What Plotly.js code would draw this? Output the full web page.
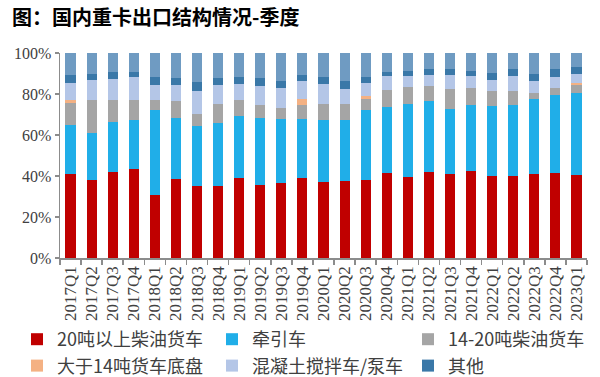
<!DOCTYPE html>
<html>
<head>
<meta charset="utf-8">
<script src="https://cdn.plot.ly/plotly-3.0.1.min.js"></script>
<style>html,body{margin:0;padding:0;background:#fff;}#chart{width:600px;height:377px;}</style>
</head>
<body>
<div id="chart"></div>
<script>
const quarters = ["2017Q1","2017Q2","2017Q3","2017Q4","2018Q1","2018Q2","2018Q3","2018Q4","2019Q1","2019Q2","2019Q3","2019Q4","2020Q1","2020Q2","2020Q3","2020Q4","2021Q1","2021Q2","2021Q3","2021Q4","2022Q1","2022Q2","2022Q3","2022Q4","2023Q1"];
const diesel20 = [41.1,37.9,42.0,43.4,30.6,38.5,35.3,35.0,39.2,35.4,36.6,39.0,36.9,37.7,38.2,41.5,39.3,41.8,41.1,42.3,40.2,40.1,40.8,41.6,40.5];
const tractor = [23.8,23.2,24.5,24.1,41.6,29.8,29.3,30.9,30.2,32.7,31.2,28.8,30.6,29.8,33.8,32.0,36.0,34.6,31.6,32.2,33.8,34.7,36.6,37.7,40.1];
const diesel14to20 = [10.7,16.1,10.4,9.7,4.7,8.3,5.8,9.2,7.5,6.5,5.2,7.0,7.8,7.6,5.6,8.3,8.1,7.3,9.7,8.3,7.3,6.7,3.2,3.8,3.6];
const chassis14 = [1.3,0,0.3,0,0,0,0,0,0,0,0,2.8,0,0.2,1.6,0,0,0,0,0,0,0,0,0,1.3];
const mixerPump = [8.5,9.5,10.3,10.9,7.3,8.0,11.2,9.3,8.0,9.5,9.9,8.9,9.6,7.1,6.2,6.8,5.2,5.7,6.7,6.1,5.4,7.3,5.7,5.2,4.1];
const otherSpecial = [3.7,3.2,3.1,2.5,3.9,3.0,4.1,3.4,3.4,3.5,3.6,2.6,3.4,3.9,2.9,2.1,2.5,2.8,3.1,2.3,3.5,3.2,3.6,3.7,3.6];
const others = [10.9,10.1,9.4,9.4,11.9,12.4,14.3,12.2,11.7,12.4,13.5,10.9,11.7,13.7,11.7,9.3,8.9,7.8,7.8,8.8,9.8,8.0,10.1,8.0,6.8];

const seriesNames = ["20吨以上柴油货车","牵引车","14-20吨柴油货车","大于14吨货车底盘","混凝土搅拌车/泵车","其他","其他车型"];
const seriesColors = ["#C00000","#20AEE8","#A5A5A5","#F4B183","#B4C6E7","#3A78A8","#6F9BC2"];
const seriesData = [diesel20, tractor, diesel14to20, chassis14, mixerPump, otherSpecial, others];
const legendCols = ["legend","legend2","legend3","legend","legend2","legend3","legend"];

const traces = seriesData.map((vals, i) => ({
  type: "bar",
  x: quarters,
  y: vals,
  name: seriesNames[i],
  marker: {color: seriesColors[i], line: {width: 0}},
  showlegend: i < 6,
  legend: legendCols[i],
  hoverinfo: "x+y+name"
}));

function legendAt(px) {
  return {
    orientation: "v",
    xref: "container", yref: "container",
    x: px / 600, xanchor: "left",
    y: 1 - 321/377, yanchor: "top",
    traceorder: "normal",
    font: {family: "Noto Sans CJK SC, sans-serif", size: 18, color: "#404040"},
    bgcolor: "rgba(0,0,0,0)",
    tracegroupgap: 0,
    itemwidth: 30
  };
}

const layout = {
  width: 600,
  height: 377,
  barmode: "stack",
  bargap: 0.52,
  paper_bgcolor: "#fff",
  plot_bgcolor: "#fff",
  margin: {l: 60, r: 13, t: 53, b: 119, autoexpand: false},
  title: {
    text: "图：国内重卡出口结构情况-季度",
    font: {family: "Noto Sans CJK SC, sans-serif", size: 20, color: "#000", weight: "bold"},
    x: 12/600, xanchor: "left", xref: "container",
    y: 1 - 18/377, yanchor: "middle", yref: "container"
  },
  xaxis: {
    type: "category",
    showline: true, linecolor: "#8c8c8c", linewidth: 1.5,
    ticks: "outside", tickson: "boundaries", ticklen: 5, tickcolor: "#8c8c8c", tickwidth: 1.5,
    tickangle: -90,
    tickfont: {family: "Liberation Serif, serif", size: 17, color: "#404040"},
    showgrid: false, zeroline: false
  },
  yaxis: {
    range: [0, 100],
    dtick: 20,
    ticksuffix: "%",
    showline: true, linecolor: "#8c8c8c", linewidth: 1.5,
    ticks: "outside", ticklen: 4, tickcolor: "#8c8c8c", tickwidth: 1.5,
    tickfont: {family: "Liberation Serif, serif", size: 16, color: "#404040"},
    showgrid: false, zeroline: false
  },
  legend: legendAt(17),
  legend2: legendAt(212),
  legend3: legendAt(408)
};

Plotly.newPlot("chart", traces, layout, {displayModeBar: false, staticPlot: true});
</script>
</body>
</html>
